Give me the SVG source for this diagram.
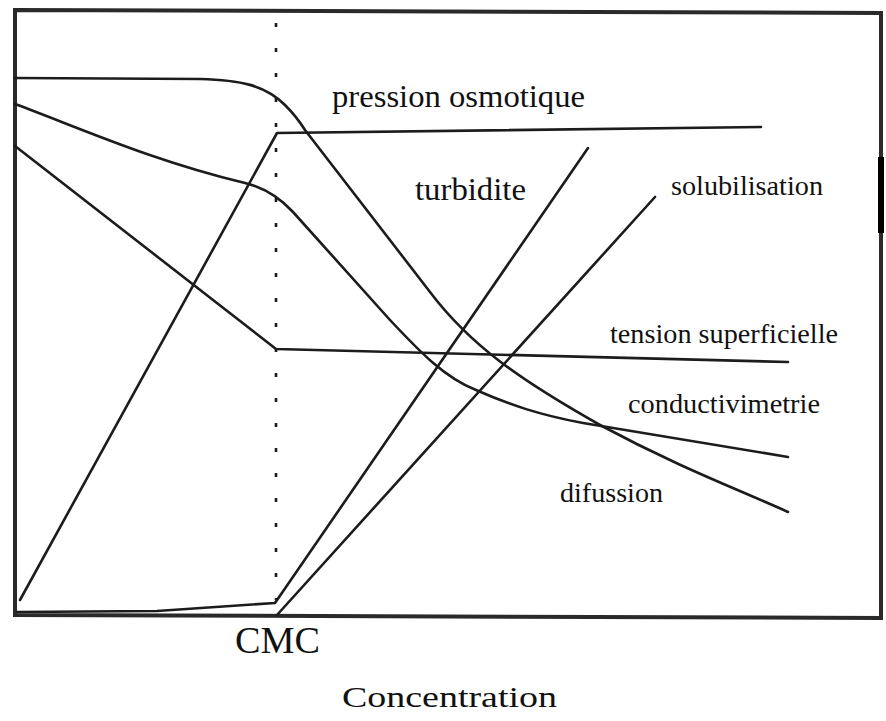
<svg xmlns="http://www.w3.org/2000/svg" width="886" height="721" viewBox="0 0 886 721">
<style>
.c{fill:none;stroke:#1c1c1c;stroke-width:2.6;stroke-linejoin:round;stroke-linecap:round}
.t{font-family:"Liberation Serif","Times New Roman",serif;fill:#111}
</style>
<rect width="886" height="721" fill="#fff"/>
<g id="frame">
<path d="M15,10 L881,13 L881,618 L15,615 Z" fill="none" stroke="#2a2a2a" stroke-width="4"/>
<rect x="878" y="157" width="6" height="76" fill="#000"/>
<line x1="276" y1="23" x2="276" y2="600" stroke="#1c1c1c" stroke-width="2.6" stroke-dasharray="4 21"/>
</g>
<g id="connectors">
<path id="pression" class="c" d="M15,78 L200,79 C240,80 265,85 285,105 C295,115 300,122 305,130 L430,292 C470,345 520,380 600,425 C680,468 740,490 788,512"/>
<path id="conduct" class="c" d="M15,104 C80,128 150,160 245,183 C265,188 280,198 293,212 L390,320 C420,352 445,378 476,390 C510,405 540,415 583,423 L788,457"/>
<path id="tension" class="c" d="M15,146 L276,349 L788,362"/>
<path id="osmo" class="c" d="M20,600 L277,133 L761,127"/>
<path id="turb" class="c" d="M17,612 L157,611 L275,603 L588,148"/>
<path id="solub" class="c" d="M277,615 L655,197"/>
</g>
<g id="labels">
<text class="t" x="332" y="107" font-size="32" textLength="253" lengthAdjust="spacingAndGlyphs">pression osmotique</text>
<text class="t" x="415" y="200" font-size="32" textLength="111" lengthAdjust="spacingAndGlyphs">turbidite</text>
<text class="t" x="671" y="195" font-size="28" textLength="152" lengthAdjust="spacingAndGlyphs">solubilisation</text>
<text class="t" x="610" y="343" font-size="28" textLength="228" lengthAdjust="spacingAndGlyphs">tension superficielle</text>
<text class="t" x="628" y="413" font-size="28" textLength="192" lengthAdjust="spacingAndGlyphs">conductivimetrie</text>
<text class="t" x="560" y="502" font-size="28" textLength="103" lengthAdjust="spacingAndGlyphs">difussion</text>
<text class="t" x="235" y="653" font-size="38" textLength="85" lengthAdjust="spacingAndGlyphs">CMC</text>
<text class="t" x="342" y="707" font-size="29" textLength="215" lengthAdjust="spacingAndGlyphs">Concentration</text>
</g>
</svg>
